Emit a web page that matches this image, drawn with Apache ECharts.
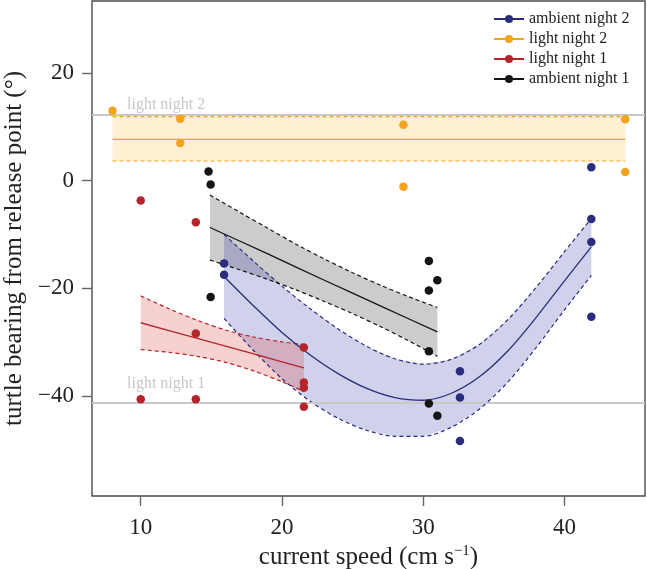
<!DOCTYPE html>
<html>
<head>
<meta charset="utf-8">
<script src="https://cdn.jsdelivr.net/npm/echarts@6/dist/echarts.min.js"></script>
<style>html,body{margin:0;padding:0;background:#fff}#c{width:647px;height:569px}</style>
</head>
<body>
<div id="c"></div>
<script>
// ---- data ----
var legendNames = ['ambient night 2', 'light night 2', 'light night 1', 'ambient night 1'];
var xTicks = [10, 20, 30, 40];
var yTicks = [-40, -20, 0, 20];

// observed points
var ambientN2X = [15.9, 15.9, 32.6, 32.6, 32.6, 41.9, 41.9, 41.9, 41.9];
var ambientN2Y = [-15.4, -17.5, -35.4, -40.3, -48.4, 2.5, -7.1, -11.4, -25.3];
var lightN2X = [8.0, 12.8, 12.8, 28.6, 28.6, 44.3, 44.3];
var lightN2Y = [13.0, 11.5, 7.0, 10.4, -1.1, 11.4, 1.6];
var lightN1X = [10, 10, 13.9, 13.9, 13.9, 21.55, 21.55, 21.55, 21.55];
var lightN1Y = [-3.7, -40.6, -7.7, -28.4, -40.6, -31.0, -37.5, -38.5, -42.0];
var ambientN1X = [14.8, 14.95, 14.95, 30.4, 31.0, 30.4, 30.4, 30.4, 31.0];
var ambientN1Y = [1.7, -0.7, -21.6, -14.9, -18.5, -20.4, -31.7, -41.4, -43.7];

// fitted lines and confidence bands
var an2FitX = [15.9, 18, 20, 22, 24, 26, 28, 30, 32, 34, 36, 38, 40, 41.9];
var an2Fit  = [-17.8, -23.3, -28.2, -32.4, -35.9, -38.6, -40.3, -40.8, -39.5, -36.4, -31.6, -25.4, -18.6, -12.3];
var an2Up   = [-10.0, -15.0, -19.6, -23.8, -27.6, -30.8, -33.1, -34.1, -33.2, -30.4, -25.8, -19.8, -13.2, -7.0];
var an2Lo   = [-25.6, -31.6, -36.8, -41.0, -44.2, -46.4, -47.5, -47.5, -45.8, -42.4, -37.4, -31.0, -24.0, -17.6];

var ln2FitX = [8.0, 44.3];
var ln2Fit  = [7.7, 7.7];
var ln2Up   = [11.9, 11.9];
var ln2Lo   = [3.66, 3.66];

var ln1FitX = [10, 12, 14, 16, 18, 20, 21.55];
var ln1Fit  = [-26.4, -27.85, -29.3, -30.75, -32.2, -33.65, -34.8];
var ln1Up   = [-21.4, -23.8, -25.95, -27.75, -29.05, -29.95, -30.45];
var ln1Lo   = [-31.4, -31.9, -32.65, -33.75, -35.35, -37.35, -39.15];

var an1FitX = [14.9, 17, 19, 21, 23, 25, 27, 29, 31.0];
var an1Fit  = [-8.7, -11.2, -13.6, -16.05, -18.5, -20.9, -23.3, -25.7, -28.1];
var an1Up   = [-2.65, -5.85, -8.85, -11.8, -14.55, -17.1, -19.45, -21.6, -23.55];
var an1Lo   = [-14.75, -16.55, -18.35, -20.3, -22.45, -24.7, -27.15, -29.8, -32.65];

// reference lines
var refValues = [12.2, -41.3];
var refLabels = ['light night 2', 'light night 1'];

// ---- styling ----
var FONT = '"Liberation Serif", "Times New Roman", serif';
var C = {
  an2: '#2a2d7c', ln2: '#f5a31e', ln1: '#b3252b', an1: '#151515'
};
var FILL = {
  an2: 'rgba(40,45,160,0.22)', ln2: 'rgba(255,185,60,0.22)',
  ln1: 'rgba(220,60,60,0.24)', an1: 'rgba(0,0,0,0.2)'
};

function pairs(xs, ys) { return xs.map(function (x, i) { return [x, ys[i]]; }); }

function band(xs, up, lo, fill) {
  return {
    type: 'custom', coordinateSystem: 'cartesian2d', silent: true, z: 1,
    data: [[xs[0], up[0]]],
    renderItem: function (params, api) {
      var pts = [];
      for (var i = 0; i < xs.length; i++) pts.push(api.coord([xs[i], up[i]]));
      for (var j = xs.length - 1; j >= 0; j--) pts.push(api.coord([xs[j], lo[j]]));
      return { type: 'polygon', shape: { points: pts }, style: { fill: fill } };
    }
  };
}
function edge(xs, ys, color, smooth) {
  return {
    type: 'line', data: pairs(xs, ys), symbol: 'none', silent: true, z: 3, smooth: smooth || false,
    lineStyle: { color: color, width: 1.2, type: [4, 3] }
  };
}
function fit(name, xs, ys, color, smooth) {
  return {
    type: 'line', name: name, data: pairs(xs, ys), symbol: 'circle', symbolSize: 8,
    showSymbol: false, silent: true, z: 4, smooth: smooth || false,
    itemStyle: { color: color }, lineStyle: { color: color, width: 1.3 }
  };
}
function pts(xs, ys, color) {
  return {
    type: 'scatter', name: 'pts', data: pairs(xs, ys), symbol: 'circle', symbolSize: 8.5,
    silent: true, z: 6, itemStyle: { color: color, opacity: 1 }
  };
}

var series = [
  band(ln2FitX, ln2Up, ln2Lo, FILL.ln2),
  band(an1FitX, an1Up, an1Lo, FILL.an1),
  band(an2FitX, an2Up, an2Lo, FILL.an2),
  band(ln1FitX, ln1Up, ln1Lo, FILL.ln1),
  {
    type: 'line', name: 'ref', data: [], silent: true, z: 2,
    markLine: {
      silent: true, symbol: 'none', animation: false,
      lineStyle: { color: '#c8c8c8', width: 2, type: 'solid' },
      data: [
        { yAxis: refValues[0], label: { formatter: refLabels[0], position: 'insideStartTop', distance: [35, 2], color: '#c8c8c8', fontFamily: FONT, fontSize: 16 } },
        { yAxis: refValues[1], label: { formatter: refLabels[1], position: 'insideStartTop', distance: [35, 11], color: '#c8c8c8', fontFamily: FONT, fontSize: 16 } }
      ]
    }
  },
  edge(an2FitX, an2Up, C.an2, 0.3), edge(an2FitX, an2Lo, C.an2, 0.3),
  edge(ln2FitX, ln2Up, C.ln2), edge(ln2FitX, ln2Lo, C.ln2),
  edge(ln1FitX, ln1Up, C.ln1, 0.3), edge(ln1FitX, ln1Lo, C.ln1, 0.3),
  edge(an1FitX, an1Up, C.an1, 0.3), edge(an1FitX, an1Lo, C.an1, 0.3),
  fit(legendNames[0], an2FitX, an2Fit, C.an2, 0.3),
  fit(legendNames[1], ln2FitX, ln2Fit, C.ln2),
  fit(legendNames[2], ln1FitX, ln1Fit, C.ln1),
  fit(legendNames[3], an1FitX, an1Fit, C.an1),
  pts(ambientN2X, ambientN2Y, C.an2),
  pts(lightN2X, lightN2Y, C.ln2),
  pts(lightN1X, lightN1Y, C.ln1),
  pts(ambientN1X, ambientN1Y, C.an1)
];

var chart = echarts.init(document.getElementById('c'), null, { renderer: 'canvas' });
chart.setOption({
  animation: false,
  backgroundColor: '#fff',
  grid: { left: 92, right: 2, top: 1, bottom: 73, show: true, borderColor: '#4a4a4a', borderWidth: 1.4,
    containLabel: false, outerBoundsMode: 'none' },
  legend: {
    data: legendNames, orient: 'vertical', left: 488, top: 6,
    itemWidth: 30, itemHeight: 10, itemGap: 4,
    textStyle: { fontFamily: FONT, fontSize: 16, color: '#222', lineHeight: 16 },
    selectedMode: false
  },
  xAxis: {
    type: 'value', min: 6.55, max: 45.7,
    name: '{a|current speed (cm s}{b|−1}{a|)}',
    nameLocation: 'middle', nameGap: 42,
    nameTextStyle: {
      rich: {
        a: { fontFamily: FONT, fontSize: 25, color: '#222' },
        b: { fontFamily: FONT, fontSize: 15, color: '#222', padding: [0, 0, 12, 0] }
      }
    },
    axisLine: { show: false, onZero: false },
    splitLine: { show: false },
    axisTick: { show: true, length: 10, inside: false, customValues: xTicks, lineStyle: { color: '#666', width: 1.4 } },
    axisLabel: { customValues: xTicks, margin: 20, fontFamily: FONT, fontSize: 23, color: '#222' }
  },
  yAxis: {
    type: 'value', min: -58.6, max: 33.4,
    name: 'turtle bearing from release point (°)',
    nameLocation: 'middle', nameGap: 61, nameRotate: 90,
    nameTextStyle: { fontFamily: FONT, fontSize: 25, color: '#222' },
    axisLine: { show: false, onZero: false },
    splitLine: { show: false },
    axisTick: { show: true, length: 10, inside: false, customValues: yTicks, lineStyle: { color: '#666', width: 1.4 } },
    axisLabel: { customValues: yTicks, margin: 18, fontFamily: FONT, fontSize: 23, color: '#222',
      formatter: function (v) { return v < 0 ? '−' + Math.abs(v) : String(v); } }
  },
  series: series
});
</script>
</body>
</html>
